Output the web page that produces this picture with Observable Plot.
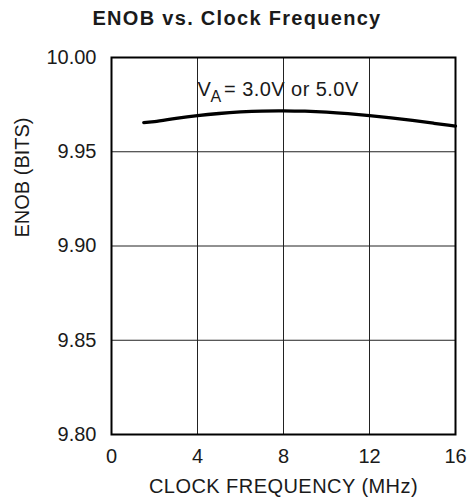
<!DOCTYPE html>
<html>
<head>
<meta charset="utf-8">
<script src="https://cdn.jsdelivr.net/npm/d3@7"></script>
<script src="https://cdn.jsdelivr.net/npm/@observablehq/plot@0.6"></script>
<style>
  html, body { margin: 0; padding: 0; background: #fff; }
  body { width: 471px; font-family: "Liberation Sans", Arial, sans-serif; }
  #title {
    box-sizing: border-box; height: 40px; padding-top: 7px; padding-left: 3px;
    line-height: 23px; text-align: center; font-weight: bold; font-size: 20px;
    letter-spacing: 1.3px; color: #1a1a1a;
  }
  #chart svg { display: block; }
</style>
</head>
<body>
<div id="title">ENOB vs. Clock Frequency</div>
<div id="chart"></div>
<script>
// Data
const freqMHz = [1.5, 2, 3, 4, 5, 6, 7, 8, 9, 10, 11, 12, 13, 14, 15, 16];
const enobBits = [9.9655, 9.9660, 9.9677, 9.9692, 9.9703, 9.9711, 9.9716, 9.9717,
                  9.9715, 9.9710, 9.9702, 9.9692, 9.9680, 9.9666, 9.9651, 9.9636];
const xTicks = [0, 4, 8, 12, 16];
const yTicks = [9.80, 9.85, 9.90, 9.95, 10.00];
const xLabel = "CLOCK FREQUENCY (MHz)";
const yLabel = "ENOB (BITS)";
const curveLabelMain = "V";
const curveLabelSub = "A";
const curveLabelRest = "= 3.0V or 5.0V";

const rows = freqMHz.map((f, i) => ({f, e: enobBits[i]}));
const ink = "#1a1a1a";

const chart = Plot.plot({
  width: 471,
  height: 462,
  marginTop: 17,
  marginBottom: 68,
  marginLeft: 111,
  marginRight: 16,
  style: {fontFamily: "'Liberation Sans', Arial, sans-serif", fontSize: "20px", color: ink, background: "#fff"},
  x: {domain: [0, 16]},
  y: {domain: [9.80, 10.00]},
  marks: [
    Plot.gridX(xTicks, {stroke: "#222", strokeOpacity: 1, strokeWidth: 1}),
    Plot.gridY(yTicks, {stroke: "#222", strokeOpacity: 1, strokeWidth: 1}),
    Plot.frame({stroke: "#000", strokeWidth: 2}),
    Plot.line(rows, {x: "f", y: "e", stroke: "#000", strokeWidth: 3.3, curve: "natural"}),
    Plot.axisX(xTicks, {tickSize: 0, tickPadding: 14, label: null, fill: ink}),
    Plot.axisY(yTicks, {tickSize: 0, tickPadding: 15, label: null, tickFormat: d3.format(".2f"), fill: ink}),
    Plot.text([xLabel], {frameAnchor: "bottom", dy: 58, fontSize: 20, fill: ink}),
    Plot.text([yLabel], {frameAnchor: "left", rotate: -90, dx: -89, dy: -8.5, fontSize: 20, fill: ink}),
    Plot.text([curveLabelMain], {frameAnchor: "top-left", textAnchor: "start", lineAnchor: "top", dx: 86, dy: 24.5, fontSize: 20, fill: ink}),
    Plot.text([curveLabelSub], {frameAnchor: "top-left", textAnchor: "start", lineAnchor: "top", dx: 99, dy: 33, fontSize: 16, fill: ink}),
    Plot.text([curveLabelRest], {frameAnchor: "top-left", textAnchor: "start", lineAnchor: "top", dx: 112.5, dy: 24.5, fontSize: 20, fill: ink})
  ]
});
// letter spacing for the curve label and x label
chart.querySelectorAll("text").forEach(t => {
  if (t.textContent === curveLabelRest) t.setAttribute("letter-spacing", "0.45px");
  if (t.textContent === xLabel) t.setAttribute("letter-spacing", "0.45px");
});
document.getElementById("chart").appendChild(chart);
</script>
</body>
</html>
